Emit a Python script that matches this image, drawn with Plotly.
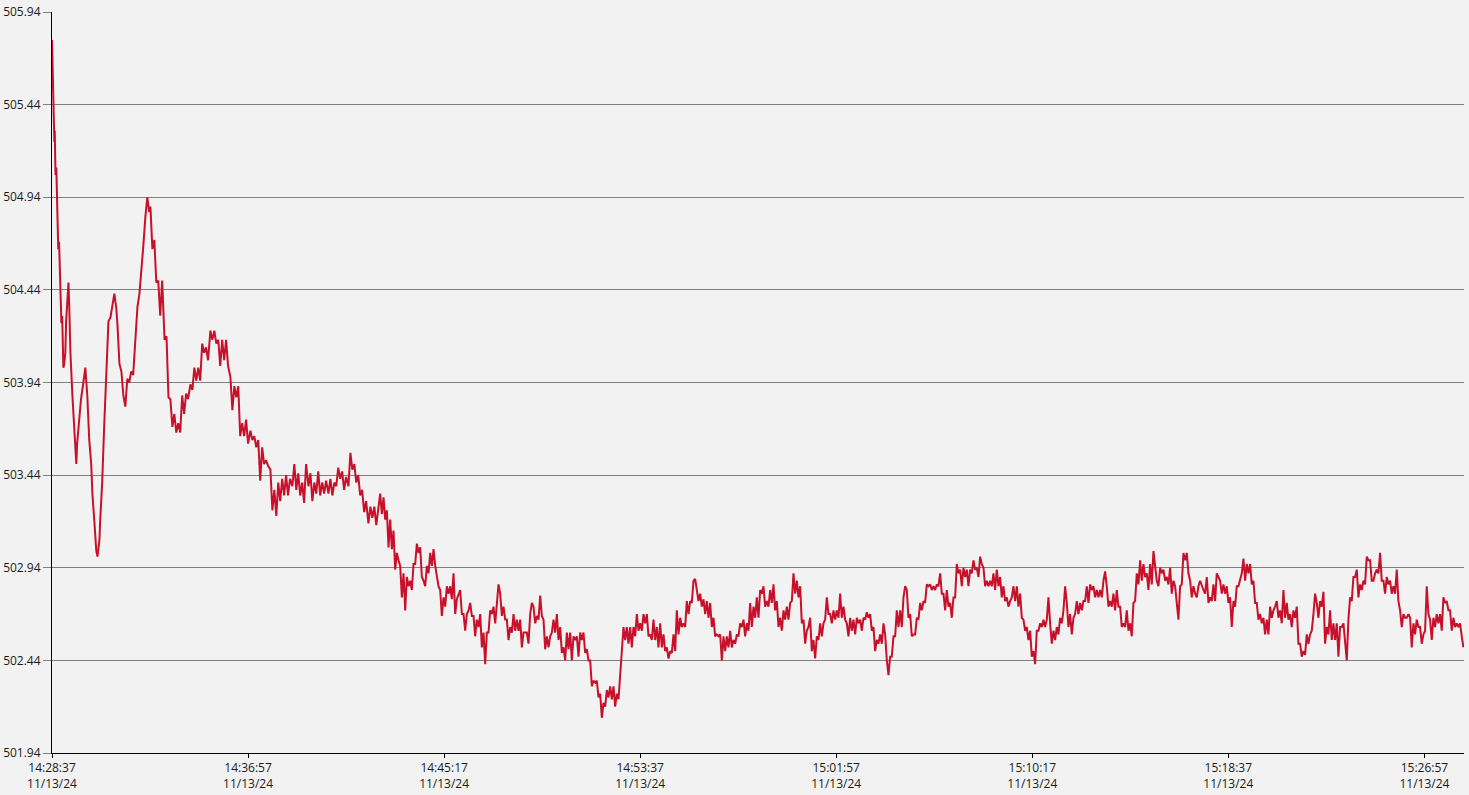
import plotly.graph_objects as go
import pandas as pd

start = pd.Timestamp("2024-11-13 14:28:37")

# early part: seconds after start, values
early_sec = [0, 1, 2, 3, 4, 6, 7, 9, 11, 13, 14, 16, 18, 21, 22, 24, 26, 28, 29, 31,
             34, 36, 39, 42, 44, 47, 52, 57, 62, 64, 69, 74, 80, 85, 90, 95, 100, 103, 108, 113,
             116, 121, 123, 128, 133, 138, 144, 149, 154, 159, 164, 167, 172, 177, 182, 187, 192, 197, 202, 207,
             212, 218, 223, 228, 233, 238, 243, 248,
             251, 256, 261, 266, 271, 276, 281, 287, 292, 297, 302, 307, 312, 317, 322, 327, 332, 337, 342, 347,
             353, 358, 363, 368, 373, 378, 383, 388, 393, 398, 404, 409, 414, 419, 424, 429, 434, 439, 444, 449,
             455, 460, 465, 470, 475, 480, 485, 490, 495, 500, 506, 511, 516, 521, 526, 531, 536, 541, 546, 551,
             557, 562, 567, 572, 577, 582, 587, 592, 597, 602, 607, 613, 618, 623, 628, 633, 638, 643, 648, 654,
             659, 664, 669, 674, 679, 684, 689, 694, 699, 705, 710, 715, 720, 725, 730, 735, 740, 745, 750, 756,
             761, 766, 771, 776, 781, 786, 791, 796, 801, 807, 812, 817, 822, 827, 832]
early_val = [505.79, 505.68, 505.72, 505.45, 505.52, 505.24, 505.30, 505.06, 505.10, 504.86, 504.90, 504.66, 504.70, 504.46, 504.50, 504.26, 504.30, 504.06, 504.02, 504.04,
             504.10, 504.27, 504.40, 504.48, 504.35, 504.10, 503.87, 503.65, 503.50, 503.61, 503.73, 503.85, 503.94, 504.02, 503.87, 503.63, 503.50, 503.34, 503.19, 503.03,
             503.00, 503.09, 503.20, 503.40, 503.70, 503.98, 504.27, 504.29, 504.36, 504.42, 504.34, 504.25, 504.04, 504.00, 503.87, 503.81, 503.96, 503.94, 504.00, 503.98,
             504.15, 504.35, 504.42, 504.58, 504.68, 504.83, 504.94, 504.86,
             504.89, 504.66, 504.71, 504.48, 504.49, 504.30, 504.49, 504.17, 504.19, 503.86, 503.85, 503.70, 503.77, 503.67, 503.72, 503.67, 503.87, 503.77, 503.88, 503.85,
             503.93, 503.90, 504.02, 503.95, 504.02, 503.95, 504.15, 504.10, 504.13, 504.06, 504.22, 504.17, 504.22, 504.15, 504.17, 504.03, 504.17, 504.06, 504.17, 504.03,
             503.97, 503.79, 503.92, 503.86, 503.92, 503.65, 503.72, 503.65, 503.74, 503.61, 503.68, 503.63, 503.65, 503.59, 503.63, 503.41, 503.59, 503.50, 503.52, 503.49,
             503.47, 503.25, 503.36, 503.22, 503.40, 503.30, 503.42, 503.33, 503.44, 503.33, 503.42, 503.38, 503.50, 503.36, 503.45, 503.33, 503.40, 503.29, 503.50, 503.38,
             503.45, 503.30, 503.40, 503.34, 503.46, 503.33, 503.40, 503.34, 503.41, 503.34, 503.42, 503.33, 503.40, 503.38, 503.48, 503.42, 503.46, 503.36, 503.43, 503.38,
             503.56, 503.47, 503.50, 503.40, 503.44, 503.33, 503.36, 503.24, 503.30, 503.18, 503.27, 503.21, 503.27, 503.17, 503.26]

# later part: regular readings every 4.25 s from 837 s after start
late_start_sec = 837
late_step_sec = 4.25
late_val = [
    503.34, 503.23, 503.32, 503.20, 503.25, 503.05, 503.20, 503.04, 503.14, 502.93,
    503.02, 502.98, 502.95, 502.78, 502.91, 502.71, 502.89, 502.84, 502.87, 502.82,
    502.96, 502.96, 503.07, 503.02, 503.05, 502.89, 502.87, 502.84, 502.95, 502.91,
    503.02, 502.95, 503.04, 502.95, 502.89, 502.84, 502.82, 502.68, 502.78, 502.73,
    502.84, 502.80, 502.84, 502.77, 502.91, 502.69, 502.77, 502.80, 502.82, 502.69,
    502.69, 502.60, 502.69, 502.71, 502.75, 502.68, 502.68, 502.57, 502.66, 502.62,
    502.69, 502.51, 502.59, 502.42, 502.59, 502.59, 502.71, 502.69, 502.73, 502.64,
    502.77, 502.85, 502.80, 502.68, 502.73, 502.66, 502.66, 502.55, 502.62, 502.59,
    502.69, 502.60, 502.66, 502.60, 502.66, 502.51, 502.59, 502.59, 502.59, 502.53,
    502.69, 502.75, 502.73, 502.64, 502.68, 502.66, 502.79, 502.68, 502.66, 502.50,
    502.57, 502.51, 502.57, 502.59, 502.66, 502.59, 502.69, 502.55, 502.62, 502.48,
    502.51, 502.44, 502.59, 502.50, 502.59, 502.44, 502.57, 502.55, 502.57, 502.46,
    502.59, 502.55, 502.59, 502.48, 502.50, 502.44, 502.44, 502.30, 502.33, 502.32,
    502.33, 502.24, 502.26, 502.13, 502.21, 502.19, 502.28, 502.24, 502.30, 502.23,
    502.30, 502.19, 502.26, 502.23, 502.35, 502.46, 502.62, 502.55, 502.62, 502.53,
    502.62, 502.51, 502.62, 502.57, 502.69, 502.60,
    502.64, 502.60, 502.69, 502.64, 502.69, 502.57, 502.58, 502.55, 502.66, 502.55,
    502.62, 502.51, 502.64, 502.51, 502.58, 502.49, 502.51, 502.45, 502.49, 502.48,
    502.58, 502.49, 502.71, 502.58, 502.67, 502.62, 502.64, 502.62, 502.76, 502.69,
    502.76, 502.75, 502.87, 502.88, 502.82, 502.76, 502.80, 502.73, 502.77, 502.69,
    502.76, 502.67, 502.75, 502.62, 502.67, 502.57, 502.58, 502.57, 502.58, 502.44,
    502.57, 502.49, 502.57, 502.51, 502.60, 502.51, 502.55, 502.53, 502.58, 502.57,
    502.64, 502.62, 502.66, 502.57, 502.64, 502.60, 502.75, 502.62, 502.73, 502.67,
    502.78, 502.67, 502.82, 502.80, 502.84, 502.73, 502.76, 502.73, 502.82, 502.75,
    502.85, 502.71, 502.76, 502.62, 502.67, 502.60, 502.71, 502.66, 502.73, 502.66,
    502.75, 502.76, 502.91, 502.80, 502.87, 502.78, 502.84, 502.64, 502.66, 502.53,
    502.60, 502.62, 502.67, 502.49, 502.55, 502.45, 502.57, 502.55, 502.64, 502.57,
    502.64, 502.66, 502.78, 502.69, 502.69, 502.64, 502.71, 502.66, 502.71, 502.67,
    502.80, 502.67, 502.73, 502.66, 502.64, 502.57, 502.67, 502.60, 502.66, 502.58,
    502.67, 502.64, 502.66, 502.60, 502.67, 502.66, 502.70, 502.67, 502.69, 502.60,
    502.62, 502.49, 502.55, 502.53,
    502.58, 502.53, 502.64, 502.58, 502.44, 502.36, 502.46, 502.46, 502.57, 502.57,
    502.71, 502.62, 502.71, 502.62, 502.78, 502.84, 502.82, 502.67, 502.69, 502.57,
    502.58, 502.58, 502.67, 502.66, 502.75, 502.71, 502.76, 502.75, 502.85, 502.84,
    502.85, 502.82, 502.84, 502.82, 502.85, 502.84, 502.91, 502.80, 502.80, 502.71,
    502.82, 502.73, 502.75, 502.67, 502.78, 502.78, 502.96, 502.91, 502.93, 502.84,
    502.94, 502.89, 502.93, 502.84, 502.93, 502.91, 502.98, 502.93, 502.94, 502.89,
    503.00, 502.96, 502.94, 502.84, 502.87, 502.84, 502.87, 502.84, 502.91, 502.82,
    502.93, 502.84, 502.89, 502.78, 502.84, 502.76, 502.78, 502.73, 502.76, 502.78,
    502.84, 502.76, 502.84, 502.73, 502.80, 502.67, 502.66, 502.60, 502.62, 502.55,
    502.60, 502.46, 502.49, 502.42, 502.60, 502.60, 502.64, 502.62, 502.66, 502.62,
    502.66, 502.78, 502.64, 502.53, 502.60, 502.55, 502.62, 502.58, 502.67, 502.64,
    502.71, 502.84, 502.75, 502.62, 502.69, 502.58, 502.67, 502.69, 502.76, 502.69,
    502.75, 502.71, 502.76, 502.76, 502.84, 502.75, 502.85, 502.82, 502.84, 502.78,
    502.82, 502.78, 502.82, 502.78, 502.87, 502.92, 502.84, 502.73, 502.76, 502.73,
    502.80, 502.71, 502.82, 502.73, 502.73, 502.62, 502.64, 502.62, 502.71, 502.60,
    502.64, 502.57, 502.75, 502.76, 502.91, 502.85, 502.98, 502.87, 502.96, 502.89,
    502.91, 502.82, 502.96, 502.85, 503.03, 502.94, 502.87, 502.84,
    502.94, 502.91, 502.93, 502.87, 502.89, 502.85, 502.94, 502.80, 502.87, 502.84,
    502.73, 502.66, 502.84, 502.85, 503.02, 502.98, 503.02, 502.91, 502.87, 502.78,
    502.84, 502.80, 502.78, 502.84, 502.87, 502.84, 502.82, 502.80, 502.89, 502.75,
    502.78, 502.76, 502.85, 502.76, 502.91, 502.89, 502.87, 502.80, 502.85, 502.80,
    502.84, 502.75, 502.78, 502.62, 502.76, 502.73, 502.84, 502.84, 502.87, 502.91,
    502.99, 502.87, 502.96, 502.91, 502.96, 502.85, 502.87, 502.75, 502.75, 502.66,
    502.69, 502.64, 502.67, 502.58, 502.66, 502.58, 502.73, 502.67, 502.71, 502.73,
    502.76, 502.67, 502.71, 502.64, 502.82, 502.67, 502.75, 502.66, 502.69, 502.62,
    502.71, 502.67, 502.73, 502.53, 502.53, 502.46, 502.49, 502.47, 502.58, 502.53,
    502.58, 502.60, 502.69, 502.80, 502.75, 502.67, 502.76, 502.73, 502.81, 502.53,
    502.62, 502.58, 502.71, 502.55, 502.64, 502.55, 502.64, 502.46, 502.62, 502.62,
    502.64, 502.55, 502.44, 502.66, 502.78, 502.76, 502.89, 502.89, 502.93, 502.78,
    502.85, 502.82, 502.87, 502.85, 503.00, 502.98, 502.98, 502.87, 502.87, 502.91,
    502.93, 502.91, 503.02, 502.87, 502.87, 502.80, 502.89, 502.85, 502.87, 502.80,
    502.84, 502.80, 502.93, 502.76, 502.71, 502.62, 502.69, 502.67, 502.67, 502.69,
    502.67, 502.51, 502.64, 502.58, 502.66, 502.62, 502.62, 502.53, 502.58, 502.60,
    502.84, 502.69, 502.66, 502.55, 502.67, 502.62, 502.69, 502.64, 502.69, 502.60,
    502.78, 502.75, 502.76, 502.71, 502.71, 502.60, 502.67, 502.62, 502.64, 502.62,
    502.64, 502.57, 502.51,
]

tick_times = ["14:28:37", "14:36:57", "14:45:17", "14:53:37", "15:01:57", "15:10:17", "15:18:37", "15:26:57"]
tick_date = "11/13/24"
y_ticks = [501.94, 502.44, 502.94, 503.44, 503.94, 504.44, 504.94, 505.44, 505.94]

secs = early_sec + [late_start_sec + i * late_step_sec for i in range(len(late_val))]
times = [start + pd.Timedelta(seconds=s) for s in secs]
values = early_val + late_val

tick_vals = [pd.Timestamp("2024-11-13 " + t) for t in tick_times]
tick_text = [t + "<br>" + tick_date for t in tick_times]

fig = go.Figure()
fig.add_trace(go.Scatter(x=times, y=values, mode="lines",
                         line=dict(color="#c8102a", width=2), showlegend=False))

bg = "#f2f2f2"
fig.update_layout(
    width=1469, height=795,
    paper_bgcolor=bg, plot_bgcolor=bg,
    margin=dict(l=52, r=5, t=12, b=42, autoexpand=False),
    font=dict(family="Open Sans, Noto Sans, sans-serif", size=12, color="#1a1a1a"),
    showlegend=False,
)
fig.update_xaxes(
    type="date", automargin=False,
    range=[start, start + pd.Timedelta(seconds=3601)],
    tickvals=tick_vals, ticktext=tick_text,
    showgrid=False, zeroline=False,
    showline=True, linecolor="#000000", linewidth=1,
    ticks="outside", ticklen=4, tickcolor="#000000",
)
fig.update_yaxes(
    automargin=False,
    range=[501.94, 505.94],
    tickvals=y_ticks, ticktext=["%.2f" % v for v in y_ticks],
    showgrid=True, gridcolor="#808080", gridwidth=1,
    zeroline=False,
    showline=True, linecolor="#000000", linewidth=1,
    ticks="outside", ticklen=8, tickcolor="#808080",
)

page_css = ("document.body.style.margin='0';"
            "document.body.style.padding='0';"
            "document.body.style.overflow='hidden';"
            "document.body.style.background='#f2f2f2';")
fig.write_html("out.html", post_script=page_css, config={"displayModeBar": False})
